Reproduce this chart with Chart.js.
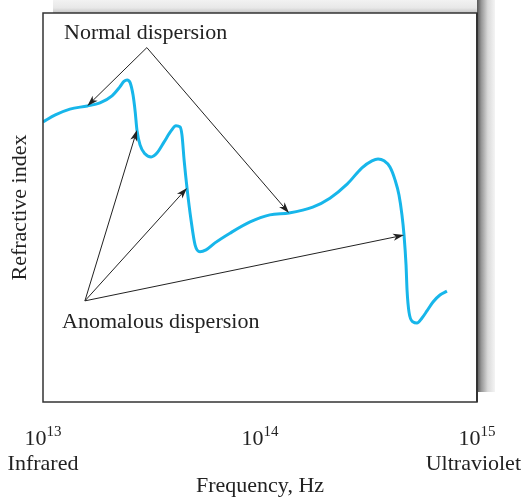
<!DOCTYPE html>
<html>
<head>
<meta charset="utf-8">
<script src="https://cdn.jsdelivr.net/npm/chart.js@4/dist/chart.umd.min.js"></script>
<style>
  html, body { margin: 0; padding: 0; background: #fff; }
  canvas { display: block; }
</style>
</head>
<body>
<canvas id="dispersion" width="527" height="497"></canvas>
<script>
// frequency (Hz) and refractive index (relative units) along the curve
const freqHz = [1.00e13, 1.14e13, 1.33e13, 1.60e13, 1.83e13, 2.08e13, 2.26e13, 2.36e13, 2.44e13, 2.52e13,
  2.60e13, 2.66e13, 2.71e13, 2.80e13, 2.95e13, 3.15e13, 3.35e13, 3.61e13, 3.89e13, 4.10e13,
  4.28e13, 4.37e13, 4.47e13, 4.61e13, 4.81e13, 5.02e13, 5.29e13, 5.64e13, 6.20e13, 7.27e13,
  9.00e13, 1.11e14, 1.36e14, 1.75e14, 2.10e14, 2.52e14, 2.95e14, 3.28e14, 3.50e14, 3.73e14,
  3.97e14, 4.19e14, 4.37e14, 4.51e14, 4.61e14, 4.71e14, 4.76e14, 4.86e14, 5.07e14, 5.29e14,
  5.58e14, 5.88e14, 6.27e14, 6.75e14, 7.27e14];
const index = [72.0, 73.8, 75.3, 76.1, 76.9, 78.7, 81.0, 82.4, 82.8, 82.1,
  78.9, 74.6, 69.9, 66.1, 63.8, 63.0, 64.0, 66.8, 69.7, 71.0,
  70.7, 68.6, 62.2, 55.0, 46.8, 40.4, 38.6, 39.1, 40.9, 43.4,
  46.3, 48.1, 48.6, 50.1, 52.4, 56.0, 60.2, 62.0, 62.5, 62.0,
  60.4, 57.1, 53.2, 48.1, 42.9, 35.2, 28.8, 23.1, 20.6, 20.3,
  21.6, 23.4, 25.7, 27.5, 28.5];

const tickExps = [13, 14, 15];
const tickNames = ['Infrared', '', 'Ultraviolet'];

// callouts: label anchor (freq, index) and the curve points they point at
const normalApex = [3.01e13, 91.1];
const normalTargets = [3, 32];
const anomalousApex = [1.56e13, 26.0];
const anomalousTargets = [12, 23, 44];

const SERIF = '"Liberation Serif", "Times New Roman", serif';
const INK = '#222';

function arrow(ctx, x0, y0, x1, y1) {
  const a = Math.atan2(y1 - y0, x1 - x0);
  const len = 11, half = 3.6;
  const bx = x1 - Math.cos(a) * len, by = y1 - Math.sin(a) * len;
  ctx.beginPath();
  ctx.moveTo(x0, y0);
  ctx.lineTo(bx + Math.cos(a) * 3, by + Math.sin(a) * 3);
  ctx.stroke();
  ctx.beginPath();
  ctx.moveTo(x1, y1);
  ctx.lineTo(bx - Math.sin(a) * half, by + Math.cos(a) * half);
  ctx.lineTo(bx + Math.cos(a) * 3, by + Math.sin(a) * 3);
  ctx.lineTo(bx + Math.sin(a) * half, by - Math.cos(a) * half);
  ctx.closePath();
  ctx.fill();
}

const framePlugin = {
  id: 'frame',
  beforeDraw(chart) {
    const { ctx, chartArea: a } = chart;
    ctx.save();
    // drop shadow behind the panel, offset up and right
    const top = ctx.createLinearGradient(0, 0, 0, a.top);
    top.addColorStop(0, '#f2f2f2');
    top.addColorStop(0.6, '#e8e8e8');
    top.addColorStop(1, '#c4c4c4');
    ctx.fillStyle = top;
    ctx.fillRect(a.left + 10, 0, a.right - a.left + 8, a.top);
    const side = ctx.createLinearGradient(a.right, 0, a.right + 18, 0);
    side.addColorStop(0, '#555');
    side.addColorStop(0.25, '#999');
    side.addColorStop(0.6, '#dadada');
    side.addColorStop(1, '#f4f4f4');
    ctx.fillStyle = side;
    ctx.fillRect(a.right, 0, 18, a.bottom - 10);
    ctx.fillStyle = '#fff';
    ctx.fillRect(a.left, a.top, a.right - a.left, a.bottom - a.top);
    ctx.restore();
  },
  afterDraw(chart) {
    const { ctx, chartArea: a, scales: { x, y } } = chart;
    ctx.save();
    ctx.strokeStyle = '#333';
    ctx.lineWidth = 1.5;
    ctx.strokeRect(a.left, a.top, a.right - a.left, a.bottom - a.top);
    ctx.lineWidth = 2;
    ctx.beginPath();
    ctx.moveTo(a.right, a.top);
    ctx.lineTo(a.right, a.bottom);
    ctx.stroke();

    // callout arrows
    ctx.strokeStyle = INK;
    ctx.fillStyle = INK;
    ctx.lineWidth = 1;
    const nx = x.getPixelForValue(normalApex[0]), ny = y.getPixelForValue(normalApex[1]);
    normalTargets.forEach(i => arrow(ctx, nx, ny, x.getPixelForValue(freqHz[i]), y.getPixelForValue(index[i])));
    const ax = x.getPixelForValue(anomalousApex[0]), ay = y.getPixelForValue(anomalousApex[1]);
    anomalousTargets.forEach(i => arrow(ctx, ax, ay, x.getPixelForValue(freqHz[i]), y.getPixelForValue(index[i])));

    ctx.fillStyle = INK;
    ctx.font = '22px ' + SERIF;
    ctx.textAlign = 'left';
    ctx.textBaseline = 'alphabetic';
    ctx.fillText('Normal dispersion', 64, 39);
    ctx.fillText('Anomalous dispersion', 62, 328);

    // decade ticks with superscript exponents
    tickExps.forEach((e, k) => {
      const px = x.getPixelForValue(Math.pow(10, e));
      ctx.font = '22px ' + SERIF;
      const wb = ctx.measureText('10').width;
      ctx.font = '15px ' + SERIF;
      const we = ctx.measureText(String(e)).width;
      const left = px - (wb + we) / 2;
      ctx.textAlign = 'left';
      ctx.font = '22px ' + SERIF;
      ctx.fillText('10', left, 445);
      ctx.font = '15px ' + SERIF;
      ctx.fillText(String(e), left + wb, 436);
      if (tickNames[k]) {
        ctx.font = '22px ' + SERIF;
        const w = ctx.measureText(tickNames[k]).width;
        const l = Math.min(px - w / 2, chart.width - 6 - w);
        ctx.fillText(tickNames[k], Math.max(6, l), 470);
      }
    });

    ctx.font = '22px ' + SERIF;
    ctx.textAlign = 'center';
    ctx.fillText('Frequency, Hz', (a.left + a.right) / 2, 492);
    ctx.translate(26, (a.top + a.bottom) / 2);
    ctx.rotate(-Math.PI / 2);
    ctx.fillText('Refractive index', 0, 0);
    ctx.restore();
  }
};

new Chart(document.getElementById('dispersion'), {
  type: 'line',
  data: {
    datasets: [{
      data: freqHz.map((f, i) => ({ x: f, y: index[i] })),
      borderColor: '#17b6ea',
      borderWidth: 3,
      pointRadius: 0,
      cubicInterpolationMode: 'monotone',
      fill: false
    }]
  },
  options: {
    responsive: false,
    animation: false,
    layout: { padding: { left: 43, top: 13, right: 50, bottom: 95 } },
    plugins: { legend: { display: false }, tooltip: { enabled: false } },
    scales: {
      x: { type: 'logarithmic', min: 1e13, max: 1e15, display: false },
      y: { min: 0, max: 100, display: false }
    }
  },
  plugins: [framePlugin]
});
</script>
</body>
</html>
